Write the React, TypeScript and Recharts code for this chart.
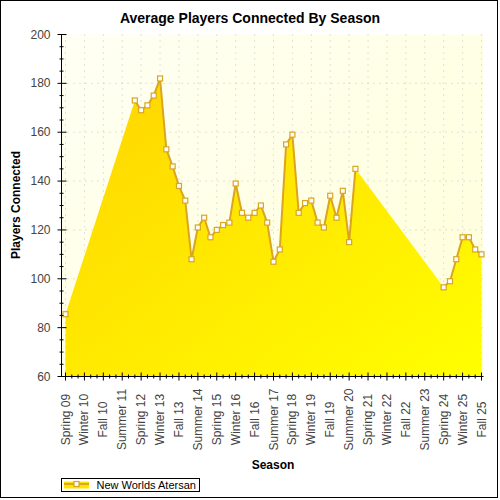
import React from 'react';
import { AreaChart, Area, Line, XAxis, YAxis, CartesianGrid } from 'recharts';

// every season on the axis (one category per season)
const seasons = [
  'Spring 09', 'Summer 09', 'Fall 09', 'Winter 10', 'Spring 10', 'Summer 10', 'Fall 10', 'Winter 11',
  'Spring 11', 'Summer 11', 'Fall 11', 'Winter 12', 'Spring 12', 'Summer 12', 'Fall 12', 'Winter 13',
  'Spring 13', 'Summer 13', 'Fall 13', 'Winter 14', 'Spring 14', 'Summer 14', 'Fall 14', 'Winter 15',
  'Spring 15', 'Summer 15', 'Fall 15', 'Winter 16', 'Spring 16', 'Summer 16', 'Fall 16', 'Winter 17',
  'Spring 17', 'Summer 17', 'Fall 17', 'Winter 18', 'Spring 18', 'Summer 18', 'Fall 18', 'Winter 19',
  'Spring 19', 'Summer 19', 'Fall 19', 'Winter 20', 'Spring 20', 'Summer 20', 'Fall 20', 'Winter 21',
  'Spring 21', 'Summer 21', 'Fall 21', 'Winter 22', 'Spring 22', 'Summer 22', 'Fall 22', 'Winter 23',
  'Spring 23', 'Summer 23', 'Fall 23', 'Winter 24', 'Spring 24', 'Summer 24', 'Fall 24', 'Winter 25',
  'Spring 25', 'Summer 25', 'Fall 25',
];

// seasons that carry a label (and a long tick + grid line)
const labelledSeasons = [
  'Spring 09', 'Winter 10', 'Fall 10', 'Summer 11', 'Spring 12', 'Winter 13', 'Fall 13', 'Summer 14',
  'Spring 15', 'Winter 16', 'Fall 16', 'Summer 17', 'Spring 18', 'Winter 19', 'Fall 19', 'Summer 20',
  'Spring 21', 'Winter 22', 'Fall 22', 'Summer 23', 'Spring 24', 'Winter 25', 'Fall 25',
];

const players: (number | null)[] = [
  85.5, null, null, null, null, null, null, null, null, null, null,
  173, 169, 171, 175, 182, 153, 146, 138, 132, 108,
  121, 125, 117, 120, 122, 123, 139, 127, 125, 127,
  130, 123, 107, 112, 155, 159, 127, 131, 132, 123,
  121, 134, 125, 136, 115, 145,
  null, null, null, null, null, null, null, null, null, null, null, null, null,
  96.5, 99, 108, 117, 117, 112, 110,
];

const yLabels = [60, 80, 100, 120, 140, 160, 180, 200];
const yGrid = [80, 100, 120, 140, 160, 180];
const yMinor = [60, 65, 70, 75, 80, 85, 90, 95, 100, 105, 110, 115, 120, 125, 130, 135, 140,
  145, 150, 155, 160, 165, 170, 175, 180, 185, 190, 195, 200];

const data = seasons.map((season, i) => ({ season, players: players[i] }));

const FONT = '"Liberation Sans", Arial, sans-serif';
const GOLD = '#DAA520';

const SeasonTick = ({ x, y, payload }: any) => {
  const major = labelledSeasons.includes(payload.value);
  return (
    <g>
      <line x1={x} x2={x} y1={major ? y - 4 : y - 2} y2={major ? y + 4 : y + 2} stroke="#000" />
      {major && (
        <text
          x={x} y={y + 43}
          transform={`rotate(-90, ${x}, ${y + 43})`}
          textAnchor="middle" dominantBaseline="central"
          fontFamily={FONT} fontSize={12} fill="#444"
        >
          {payload.value}
        </text>
      )}
    </g>
  );
};

const TopTick = ({ x, y }: any) => (
  <line x1={x} x2={x} y1={y} y2={y + 3} stroke="#000" />
);

const LeftTick = ({ x, y, payload }: any) => {
  const major = yLabels.includes(payload.value);
  return (
    <g>
      <line x1={major ? x - 4 : x - 2} x2={major ? x + 5 : x + 2} y1={y} y2={y} stroke="#000" />
      {major && (
        <text x={x - 11} y={y} textAnchor="end" dominantBaseline="central"
          fontFamily={FONT} fontSize={12} fill="#444">
          {payload.value}
        </text>
      )}
    </g>
  );
};

const RightTick = ({ x, y, payload }: any) => {
  const major = yLabels.includes(payload.value);
  return <line x1={major ? x - 5 : x - 3} x2={major ? x + 2 : x} y1={y} y2={y} stroke="#000" />;
};

const SquareDot = (props: any) => {
  const { cx, cy, index } = props;
  if (cx == null || cy == null || Number.isNaN(cy)) return <g key={index} />;
  return (
    <rect key={index} x={cx - 2.5} y={cy - 2.5} width={5} height={5}
      fill="#fff" stroke={GOLD} strokeWidth={1.2} />
  );
};

export default function App() {
  return (
    <div style={{ position: 'absolute', left: 0, top: 0, width: 500, height: 500, background: '#fff', fontFamily: FONT }}>
      <AreaChart width={500} height={500} data={data} margin={{ top: 34.5, right: 16.5, bottom: 0, left: 0 }}>
        <defs>
          <linearGradient id="bgGrad" x1="0" y1="0" x2="1" y2="1">
            <stop offset="0%" stopColor="#FFFFF4" />
            <stop offset="100%" stopColor="#FFFFD9" />
          </linearGradient>
          <linearGradient id="fillGrad" x1="0" y1="0" x2="1" y2="1">
            <stop offset="0%" stopColor="#FFD400" />
            <stop offset="100%" stopColor="#FFFF00" />
          </linearGradient>
        </defs>
        <CartesianGrid
          fill="url(#bgGrad)"
          stroke="#c4c4c4" strokeDasharray="1 5"
          horizontalValues={yGrid} verticalValues={labelledSeasons}
        />
        <XAxis
          dataKey="season" height={123.5} interval={0}
          padding={{ left: 4, right: 2 }}
          tickSize={0} tickMargin={0} tickLine={false}
          axisLine={{ stroke: '#000' }}
          tick={(p: any) => <SeasonTick {...p} />}
        />
        <XAxis
          xAxisId="top" orientation="top" dataKey="season" height={0} interval={0}
          padding={{ left: 4, right: 2 }}
          tickSize={0} tickMargin={0} tickLine={false}
          axisLine={{ stroke: '#000' }}
          tick={(p: any) => <TopTick {...p} />}
        />
        <YAxis
          type="number" domain={[60, 200]} ticks={yMinor} interval={0} width={61.5}
          allowDataOverflow tickSize={0} tickMargin={0} tickLine={false}
          axisLine={{ stroke: '#000' }}
          tick={(p: any) => <LeftTick {...p} />}
        />
        <YAxis
          yAxisId="right" orientation="right" type="number" domain={[60, 200]} ticks={yMinor}
          interval={0} width={0} allowDataOverflow tickSize={0} tickMargin={0} tickLine={false}
          axisLine={{ stroke: '#000' }}
          tick={(p: any) => <RightTick {...p} />}
        />
        <Area
          type="linear" dataKey="players" connectNulls
          stroke="none" fill="url(#fillGrad)" fillOpacity={1}
          dot={false} activeDot={false} isAnimationActive={false}
        />
        <Line
          type="linear" dataKey="players"
          stroke={GOLD} strokeWidth={2}
          dot={SquareDot} activeDot={false} isAnimationActive={false}
        />
        <Line
          xAxisId="top" yAxisId="right" dataKey="players"
          stroke="none" dot={false} activeDot={false} isAnimationActive={false}
        />
      </AreaChart>

      <svg width={500} height={500} style={{ position: 'absolute', left: 0, top: 0, pointerEvents: 'none' }}>
        <rect x={0.5} y={0.5} width={497} height={497} fill="none" stroke="#000" />
        <text x={250} y={22.5} textAnchor="middle" fontFamily={FONT} fontSize={14} fontWeight="bold" fill="#000">
          Average Players Connected By Season
        </text>
        <text x={16} y={205} transform="rotate(-90, 16, 205)" textAnchor="middle" dominantBaseline="central"
          fontFamily={FONT} fontSize={12} fontWeight="bold" fill="#000">
          Players Connected
        </text>
        <text x={273} y={469} textAnchor="middle" fontFamily={FONT} fontSize={12} fontWeight="bold" fill="#000">
          Season
        </text>
        <rect x={61.5} y={478.5} width={138} height={13} fill="#fff" stroke="#000" />
        <rect x={64} y={481.5} width={25} height={7} fill="#FFE600" />
        <line x1={64} x2={89} y1={484} y2={484} stroke={GOLD} strokeWidth={2} />
        <rect x={74} y={481.5} width={5} height={5} fill="#fff" stroke={GOLD} strokeWidth={1.2} />
        <text x={96.5} y={488.5} fontFamily={FONT} fontSize={11} fill="#000">New Worlds Atersan</text>
      </svg>
    </div>
  );
}
